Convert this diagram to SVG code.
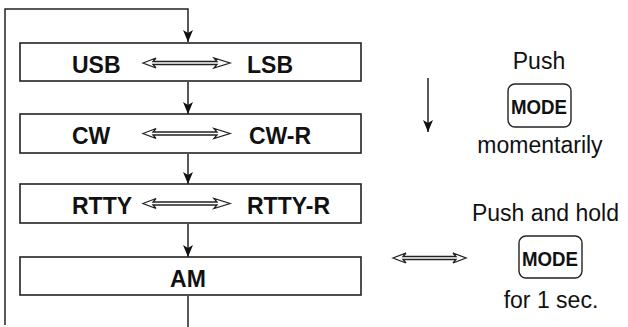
<svg xmlns="http://www.w3.org/2000/svg" width="628" height="327" viewBox="0 0 628 327">
<style>
.box{fill:#fff;stroke:#222;stroke-width:1.6}
.ln{fill:none;stroke:#222;stroke-width:1.5}
.dbl{fill:#fff;stroke:#222;stroke-width:1.3;stroke-linejoin:miter}
.b{font-family:"Liberation Sans",Arial,sans-serif;font-weight:bold;font-size:23px;fill:#111}
.r{font-family:"Liberation Sans",Arial,sans-serif;font-size:23px;fill:#111;text-anchor:middle}
.key{fill:#fff;stroke:#222;stroke-width:1.4}
.m{font-family:"Liberation Sans",Arial,sans-serif;font-weight:bold;font-size:21px;fill:#111}
</style>
<defs>
<marker id="ah" viewBox="0 0 12 10" refX="12" refY="5" markerWidth="12" markerHeight="10" markerUnits="userSpaceOnUse" orient="auto">
<path d="M0,0 L12,5 L0,10 L3,5 Z" fill="#111"/>
</marker>
</defs>
<g id="connectors">
<path class="ln" d="M5,325 V9 H188 V42" marker-end="url(#ah)"/>
<path class="ln" d="M188,82 V114" marker-end="url(#ah)"/>
<path class="ln" d="M188,154 V184" marker-end="url(#ah)"/>
<path class="ln" d="M188,224 V257" marker-end="url(#ah)"/>
<path class="ln" d="M188,296 V327"/>
<path class="ln" d="M428,78 V132" marker-end="url(#ah)"/>
<path class="dbl" d="M393,258 L406,253 L403,256.5 L456,256.5 L453,253 L466,258 L453,263 L456,259.5 L403,259.5 L406,263 Z"/>
</g>
<g id="usb-lsb">
<rect class="box" x="20" y="43" width="341" height="38"/>
<text class="b" x="72" y="73">USB</text>
<path class="dbl" d="M143,63 L156,58 L153,61.5 L217,61.5 L214,58 L230,63 L214,68 L217,64.5 L153,64.5 L156,68 Z"/>
<text class="b" x="247" y="73">LSB</text>
</g>
<g id="cw">
<rect class="box" x="20" y="114" width="341" height="39"/>
<text class="b" x="72" y="144">CW</text>
<path class="dbl" d="M143,133.5 L156,128.5 L153,132 L217,132 L214,128.5 L230,133.5 L214,138.5 L217,135 L153,135 L156,138.5 Z"/>
<text class="b" x="249" y="144">CW-R</text>
</g>
<g id="rtty">
<rect class="box" x="20" y="184" width="341" height="39"/>
<text class="b" x="72" y="214">RTTY</text>
<path class="dbl" d="M143,203.5 L156,198.5 L153,202 L217,202 L214,198.5 L230,203.5 L214,208.5 L217,205 L153,205 L156,208.5 Z"/>
<text class="b" x="247" y="214">RTTY-R</text>
</g>
<g id="am">
<rect class="box" x="20" y="257" width="341" height="38"/>
<text class="b" x="188" y="287" text-anchor="middle">AM</text>
</g>
<g id="push-momentarily">
<text class="r" x="539" y="69">Push</text>
<rect class="key" x="508" y="84" width="63" height="43" rx="7"/>
<text class="m" x="511" y="114" textLength="56" lengthAdjust="spacingAndGlyphs">MODE</text>
<text class="r" x="540" y="153">momentarily</text>
</g>
<g id="push-hold">
<text class="r" x="545.5" y="221">Push and hold</text>
<rect class="key" x="519" y="236" width="63" height="42" rx="7"/>
<text class="m" x="522" y="266" textLength="56" lengthAdjust="spacingAndGlyphs">MODE</text>
<text class="r" x="551" y="308">for 1 sec.</text>
</g>
</svg>
